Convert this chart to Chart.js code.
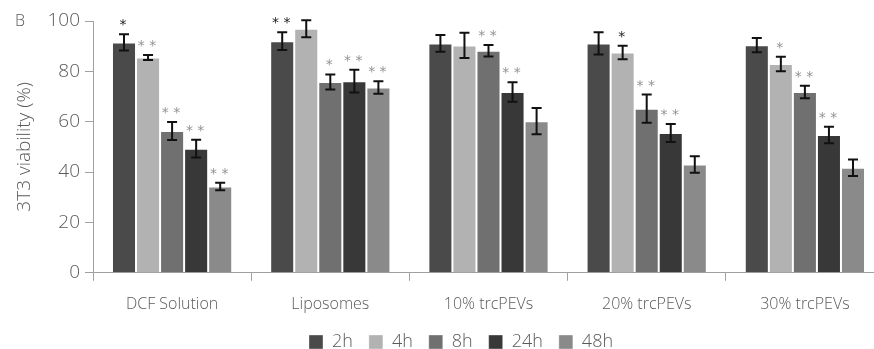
<!DOCTYPE html>
<html>
<head>
<meta charset="utf-8">
<script src="https://cdn.jsdelivr.net/npm/chart.js@4.4.1/dist/chart.umd.min.js"></script>
<style>
  html, body { margin: 0; padding: 0; background: #fff; overflow: hidden; }
  #wrap { position: relative; width: 884px; height: 349px; }
</style>
</head>
<body>
<div id="wrap"><canvas id="c"></canvas></div>
<script>
// ---- data ----
const categories = ['DCF Solution', 'Liposomes', '10% trcPEVs', '20% trcPEVs', '30% trcPEVs'];
const seriesNames = ['2h', '4h', '8h', '24h', '48h'];
const v2h  = [91.5, 92.0, 91.1, 91.1, 90.4];
const v4h  = [85.5, 96.9, 90.3, 87.5, 82.9];
const v8h  = [56.3, 75.8, 88.2, 65.2, 71.8];
const v24h = [49.3, 76.1, 71.8, 55.5, 54.7];
const v48h = [34.3, 73.6, 60.2, 43.0, 41.7];
const e2h  = [3.2, 3.5, 3.3, 4.4, 2.8];
const e4h  = [1.0, 3.4, 5.0, 2.7, 2.9];
const e8h  = [3.6, 3.0, 2.3, 5.6, 2.5];
const e24h = [3.5, 4.5, 3.9, 3.6, 3.3];
const e48h = [1.5, 2.5, 5.2, 3.3, 3.3];
const s2h  = ['*', '**', '', '', ''];
const s4h  = ['**', '', '', '*', '*'];
const s8h  = ['**', '*', '**', '**', '**'];
const s24h = ['**', '**', '**', '**', '**'];
const s48h = ['**', '**', '', '', ''];
const yTicks = [0, 20, 40, 60, 80, 100];

// ---- styles ----
const colors = ['#4a4a4a', '#b2b2b2', '#707070', '#383838', '#8a8a8a'];
const darkStars = [[0, 0], [0, 1], [1, 3]]; // [series, category]
const values = [v2h, v4h, v8h, v24h, v48h];
const errors = [e2h, e4h, e8h, e24h, e48h];
const sigs = [s2h, s4h, s8h, s24h, s48h];
const FONT = '"Open Sans", Lato, sans-serif';
const TXT = '#5a5a5a';

const datasets = seriesNames.map((n, i) => ({
  label: n,
  data: values[i],
  backgroundColor: colors[i],
  borderColor: 'rgba(255,255,255,0.35)',
  borderWidth: 1,
  categoryPercentage: 0.76,
  barPercentage: 1.0
}));

const errorBarPlugin = {
  id: 'errorBars',
  afterDatasetsDraw(chart) {
    const ctx = chart.ctx;
    const ys = chart.scales.y;
    ctx.save();
    datasets.forEach((ds, i) => {
      const meta = chart.getDatasetMeta(i);
      meta.data.forEach((bar, j) => {
        const v = values[i][j], e = errors[i][j];
        const yt = ys.getPixelForValue(v + e);
        const yb = ys.getPixelForValue(v - e);
        const x = bar.x;
        ctx.strokeStyle = '#111';
        ctx.lineWidth = 2;
        ctx.beginPath();
        ctx.moveTo(x, yt); ctx.lineTo(x, yb);
        ctx.moveTo(x - 5, yt); ctx.lineTo(x + 5, yt);
        ctx.moveTo(x - 5, yb); ctx.lineTo(x + 5, yb);
        ctx.stroke();
        const s = sigs[i][j];
        if (s) {
          const dark = darkStars.some(d => d[0] === i && d[1] === j);
          ctx.fillStyle = dark ? '#222' : '#939393';
          ctx.font = '14px "DejaVu Sans"';
          ctx.textAlign = 'center';
          ctx.textBaseline = 'alphabetic';
          ctx.fillText(s.split('').join(' '), x - 1, yt - 5);
        }
      });
    });
    ctx.restore();
  }
};

const panelLabelPlugin = {
  id: 'panelLabel',
  afterDraw(chart) {
    const ctx = chart.ctx;
    ctx.save();
    ctx.fillStyle = TXT;
    ctx.font = '300 16px ' + FONT;
    ctx.textAlign = 'left';
    ctx.textBaseline = 'alphabetic';
    ctx.fillText('B', 15, 26);
    ctx.restore();
  }
};

const legendShiftPlugin = {
  id: 'legendShift',
  afterLayout(chart) {
    const lg = chart.legend;
    if (!lg) return;
    const shift = 461 - (lg.left + lg.right) / 2;
    lg.left += shift; lg.right += shift;
    lg.top -= 11; lg.bottom -= 11;
  }
};

new Chart(document.getElementById('c'), {
  type: 'bar',
  data: { labels: categories, datasets },
  plugins: [legendShiftPlugin, errorBarPlugin, panelLabelPlugin],
  options: {
    responsive: true,
    maintainAspectRatio: false,
    animation: false,
    layout: { padding: { top: 21, right: 0, left: 0, bottom: -23 } },
    plugins: {
      tooltip: { enabled: false },
      legend: {
        position: 'bottom',
        labels: {
          boxWidth: 14, boxHeight: 14, padding: 16,
          color: TXT,
          font: { family: FONT, size: 18, weight: 300 }
        }
      }
    },
    scales: {
      x: {
        grid: { display: true, drawOnChartArea: false, drawTicks: true, tickLength: 8, color: '#a0a0a0', offset: true },
        border: { display: true, color: '#a0a0a0', width: 1 },
        ticks: { color: TXT, font: { family: FONT, size: 16, weight: 300 }, padding: 14, maxRotation: 0 }
      },
      y: {
        min: 0, max: 100,
        afterBuildTicks(scale) { scale.ticks = yTicks.map(v => ({ value: v })); },
        afterFit(scale) { scale.width = 93; },
        grid: { display: true, drawOnChartArea: false, drawTicks: true, tickLength: 8, color: '#a0a0a0' },
        border: { display: true, color: '#a0a0a0', width: 1 },
        ticks: { color: TXT, font: { family: FONT, size: 19, weight: 300 }, padding: 5 },
        title: { display: true, text: '3T3 viability (%)', color: TXT, font: { family: FONT, size: 19, weight: 300 }, padding: { top: 13, bottom: 0 } }
      }
    }
  }
});
</script>
</body>
</html>
